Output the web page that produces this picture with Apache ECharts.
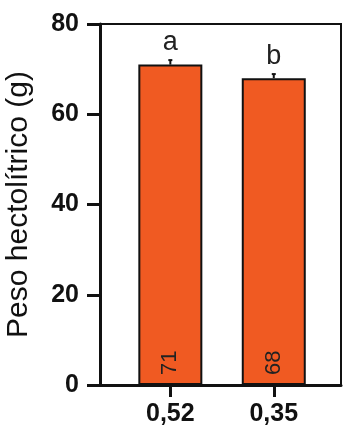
<!DOCTYPE html>
<html>
<head>
<meta charset="utf-8">
<script src="https://cdn.jsdelivr.net/npm/echarts@6/dist/echarts.min.js"></script>
<style>
  html, body { margin: 0; padding: 0; background: #fff; }
  #chart { width: 345px; height: 434px; }
</style>
</head>
<body>
<div id="chart"></div>
<script>
// Treatment levels (x positions 1, 2) and their labels
const categories = ['0,52', '0,35'];
const positions = [1, 2];
// Mean hectolitre weight and its error
const values = [71, 68];
const errors = [1.0, 0.9];
// Significance letters
const letters = ['a', 'b'];
// Y-axis ticks
const yTicks = [0, 20, 40, 60, 80];

const chart = echarts.init(document.getElementById('chart'));

const barData = positions.map((x, i) => [x, values[i]]);
const errData = positions.map((x, i) => [x, values[i], errors[i], letters[i]]);
const FONT = 'Liberation Sans, Arial, sans-serif';

chart.setOption({
  animation: false,
  grid: {
    left: 100, right: 4, top: 24, bottom: 49,
    outerBoundsMode: 'none',
    containLabel: false,
    show: true, borderColor: '#111', borderWidth: 2, backgroundColor: 'transparent'
  },
  xAxis: {
    type: 'value',
    min: 0.32, max: 2.65,
    splitLine: { show: false },
    axisLine: { show: true, onZero: false, lineStyle: { color: '#111', width: 3 } },
    axisTick: { show: true, customValues: positions, length: 12, lineStyle: { color: '#111', width: 3 } },
    axisLabel: {
      customValues: positions,
      formatter: v => categories[positions.indexOf(Math.round(v))] || '',
      fontFamily: FONT,
      fontWeight: 'bold', fontSize: 25, color: '#111', margin: 17
    }
  },
  yAxis: {
    type: 'value',
    min: yTicks[0], max: yTicks[yTicks.length - 1], interval: 20,
    splitLine: { show: false },
    axisLine: { show: true, lineStyle: { color: '#111', width: 3 } },
    axisTick: { show: true, length: 13, lineStyle: { color: '#111', width: 3 } },
    axisLabel: {
      fontFamily: FONT,
      fontWeight: 'bold', fontSize: 25, color: '#111', margin: 21
    },
    name: 'Peso hectolítrico (g)',
    nameLocation: 'middle',
    nameGap: 66,
    nameRotate: 90,
    nameTextStyle: {
      fontFamily: FONT,
      fontSize: 30, color: '#111'
    }
  },
  series: [
    {
      type: 'bar',
      data: barData,
      barWidth: 64,
      itemStyle: { color: '#F05A22', borderColor: '#111', borderWidth: 2 },
      label: {
        show: true,
        position: 'insideBottom',
        rotate: 90,
        distance: 10,
        align: 'left',
        verticalAlign: 'middle',
        formatter: p => String(p.value[1]),
        fontFamily: FONT,
        fontSize: 22, color: '#222'
      },
      z: 2
    },
    {
      type: 'custom',
      data: errData,
      z: 3,
      renderItem: (params, api) => {
        const x = api.value(0), v = api.value(1), e = api.value(2);
        const base = api.coord([x, v]);
        const top = api.coord([x, v + e]);
        return {
          type: 'group',
          children: [
            { type: 'line', shape: { x1: base[0], y1: base[1], x2: top[0], y2: top[1] },
              style: { stroke: '#111', lineWidth: 2 } },
            { type: 'line', shape: { x1: top[0] - 2, y1: top[1], x2: top[0] + 2, y2: top[1] },
              style: { stroke: '#111', lineWidth: 2 } },
            { type: 'text', x: top[0], y: top[1] - 17.5,
              style: { text: letters[params.dataIndex], fontFamily: FONT,
                fontSize: 27, fill: '#222', align: 'center', verticalAlign: 'middle' } }
          ]
        };
      }
    }
  ]
});
</script>
</body>
</html>
